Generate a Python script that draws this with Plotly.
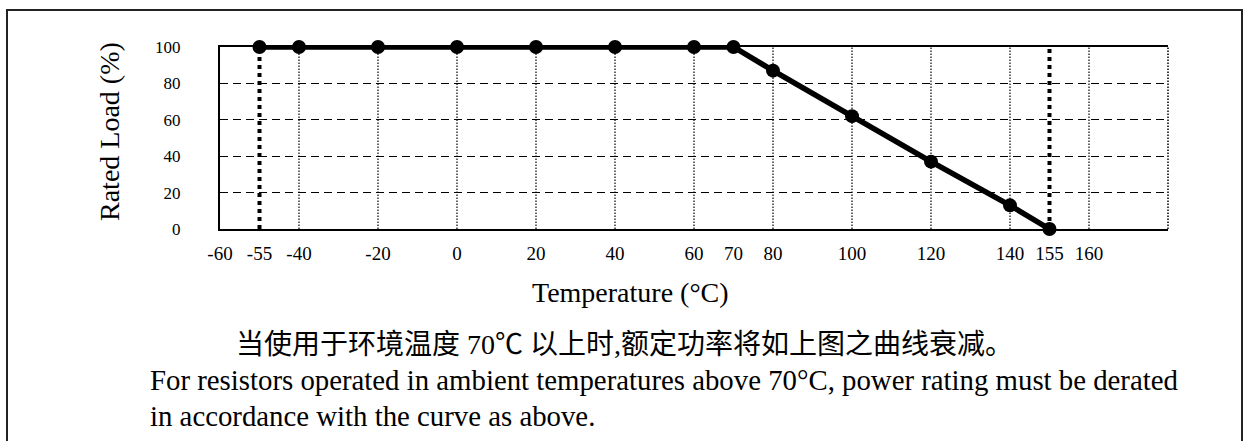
import plotly.graph_objects as go

# ---- data ----
# category slots of the temperature axis (Excel-style category axis, 10 degC per slot)
x_slots = ["-60", "-55", "-40", "-30", "-20", "-10", "0", "10", "20", "30", "40", "50",
           "60", "70", "80", "90", "100", "110", "120", "130", "140", "155", "160", "170", "180"]
tick_labels = ["-60", "-55", "-40", "-20", "0", "20", "40", "60", "70", "80",
               "100", "120", "140", "155", "160"]
grid_temps = ["-40", "-20", "0", "20", "40", "60", "80", "100", "120", "140", "160"]
curve_temps = ["-55", "-40", "-20", "0", "20", "40", "60", "70", "80", "100", "120", "140", "155"]
rated_load = [100, 100, 100, 100, 100, 100, 100, 100, 87, 62, 37, 13, 0]
limit_temps = ["-55", "155"]
y_ticks = [0, 20, 40, 60, 80, 100]

SERIF = "Liberation Serif, Times New Roman, serif"
CJK = "Liberation Serif, Noto Sans CJK SC, sans-serif"

W, H = 1247, 441
L, R, T, B = 220, 1247 - 1168, 47, 441 - 229
PW, PH = W - L - R, H - T - B


def px(x):
    return (x - L) / PW


def py(y):
    return (H - B - y) / PH


fig = go.Figure()

# vertical dotted grid lines (only at labelled grid temperatures)
gx, gy = [], []
for t in grid_temps:
    gx += [t, t, None]
    gy += [y_ticks[0], y_ticks[-1], None]
fig.add_trace(go.Scatter(x=gx, y=gy, mode="lines",
                         line=dict(color="black", width=1.2, dash="1.5px,1.5px"),
                         hoverinfo="skip", showlegend=False))

# thick dotted limit lines at -55 and 155
for t in limit_temps:
    fig.add_trace(go.Scatter(x=[t, t], y=[y_ticks[0], y_ticks[-1]], mode="lines",
                             line=dict(color="black", width=4, dash="4px,4px"),
                             hoverinfo="skip", showlegend=False))

# derating curve
fig.add_trace(go.Scatter(x=curve_temps, y=rated_load, mode="lines+markers",
                         line=dict(color="black", width=5.5),
                         marker=dict(color="black", size=14),
                         cliponaxis=False, showlegend=False))

fig.update_xaxes(type="category", categoryorder="array", categoryarray=x_slots,
                 range=[0, len(x_slots) - 1],
                 tickmode="array", tickvals=tick_labels, ticktext=tick_labels,
                 showgrid=False, zeroline=False,
                 showline=True, linecolor="black", linewidth=2, mirror=True,
                 ticks="", ticklabelstandoff=6,
                 tickfont=dict(family=SERIF, size=19, color="black"))
fig.update_yaxes(range=[0, 100], tickmode="array", tickvals=y_ticks,
                 showgrid=True, gridcolor="black", gridwidth=1.3, griddash="8px,5px",
                 zeroline=False, showline=True, linecolor="black", linewidth=2,
                 ticks="", ticklabelstandoff=34,
                 tickfont=dict(family=SERIF, size=17, color="black"))

annotations = [
    dict(text="Rated Load (%)", x=px(109), y=py(132), textangle=-90,
         font=dict(family=SERIF, size=28, color="black")),
    dict(text="Temperature (°C)", x=px(630), y=py(292),
         font=dict(family=SERIF, size=28, color="black")),
    dict(text="当使用于环境温度 70℃ 以上时,额定功率将如上图之曲线衰减。", x=px(624), y=py(344),
         font=dict(family=CJK, size=28, color="black")),
    dict(text="For resistors operated in ambient temperatures above 70°C, power rating must be derated",
         x=px(148), y=py(380), xanchor="left",
         font=dict(family=SERIF, size=28.8, color="black")),
    dict(text="in accordance with the curve as above.", x=px(148), y=py(416), xanchor="left",
         font=dict(family=SERIF, size=28.8, color="black")),
]
for a in annotations:
    a.setdefault("xanchor", "center")
    a.update(xref="paper", yref="paper", yanchor="middle", showarrow=False)

shapes = [
    # outer frame
    dict(type="rect", xref="paper", yref="paper",
         x0=px(7), x1=px(1242), y0=py(460), y1=py(10),
         line=dict(color="#222", width=2), layer="below"),
    # dotted right border of plot area
    dict(type="line", xref="paper", yref="paper", x0=1, x1=1, y0=0, y1=1,
         line=dict(color="black", width=1.5, dash="1.5px,1.5px")),
]

fig.update_layout(width=W, height=H, margin=dict(l=L, r=R, t=T, b=B, autoexpand=False),
                  paper_bgcolor="white", plot_bgcolor="white",
                  annotations=annotations, shapes=shapes, showlegend=False)

fig.write_html("out.html", config={"displayModeBar": False},
               post_script="document.body.style.margin='0';")
